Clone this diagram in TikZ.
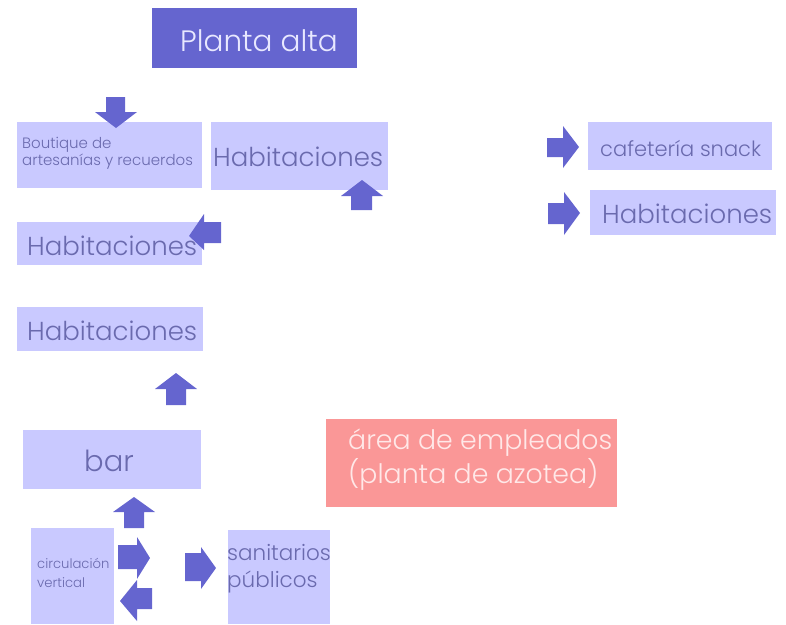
\documentclass[tikz,border=0pt]{standalone}
\usepackage{fontspec}
\setmainfont{Poppins}[UprightFont=* Light]
\definecolor{dark}{HTML}{6565CF}
\definecolor{lav}{HTML}{C9C9FF}
\definecolor{txt}{HTML}{6A6AAE}
\definecolor{salmon}{HTML}{FA9797}
\definecolor{pinktxt}{HTML}{FFE8E8}
\definecolor{titletxt}{HTML}{E8E8FF}
\tikzset{
  box/.style={fill=lav, draw=none},
  lbl/.style={text=txt, inner sep=0pt, anchor=west},
  blk/.style={fill=dark, draw=none}
}
\begin{document}
\begin{tikzpicture}[x=1pt,y=-1pt]
\useasboundingbox (0,0) rectangle (786,624);
% title
\fill[dark] (152,8) rectangle (357,68);
\node[inner sep=0pt, text=titletxt, font=\fontsize{29.5}{32}\selectfont] (title) at (259,41) {Planta alta};
% boxes
\fill[box] (17,122) rectangle (202,188);
\node[lbl, font=\fontsize{15}{17}\selectfont, align=left] (bout) at (22,153) {Boutique de\\artesanías y recuerdos};
\fill[box] (211,122) rectangle (388,190);
\node[lbl, font=\fontsize{26}{30}\selectfont] (hab1) at (213,157) {Habitaciones};
\fill[box] (17,222) rectangle (202,265);
\node[lbl, font=\fontsize{26}{30}\selectfont] (hab2) at (27,246) {Habitaciones};
\fill[box] (17,307) rectangle (203,351);
\node[lbl, font=\fontsize{26}{30}\selectfont] (hab3) at (27,331) {Habitaciones};
\fill[box] (23,430) rectangle (201,489);
\node[inner sep=0pt, text=txt, font=\fontsize{29}{32}\selectfont] (bar) at (109,461) {bar};
\fill[box] (31,528) rectangle (114,624);
\node[lbl, font=\fontsize{13.2}{19}\selectfont, align=left] (circ) at (37,573) {circulación\\vertical};
\fill[box] (228,530) rectangle (330,624);
\node[lbl, font=\fontsize{21.5}{27}\selectfont, align=left] (san) at (227,569) {sanitarios\\públicos};
\fill[salmon] (326,419) rectangle (617,507);
\node[lbl, text=pinktxt, font=\fontsize{26.8}{34}\selectfont, align=left] (emp) at (348,460) {área de empleados\\(planta de azotea)};
\fill[box] (588,122) rectangle (772,170);
\node[lbl, font=\fontsize{21}{24}\selectfont] (caf) at (600,148) {cafetería snack};
\fill[box] (590,190) rectangle (776,235);
\node[lbl, font=\fontsize{26}{30}\selectfont] (hab4) at (602,214) {Habitaciones};
% block arrows
\fill[blk] (106,97) -- (125,97) -- (125,112) -- (137,112) -- (116,128) -- (95,112) -- (106,112) -- cycle;
\fill[blk] (351,210) -- (372,210) -- (372,196) -- (383,196) -- (362,180) -- (341,196) -- (351,196) -- cycle;
\fill[blk] (221,222) -- (221,243) -- (204,243) -- (204,250) -- (189,236) -- (204,214) -- (204,222) -- cycle;
\fill[blk] (166,405) -- (186,405) -- (186,389) -- (197,389) -- (176,373) -- (155,389) -- (166,389) -- cycle;
\fill[blk] (124,528) -- (144,528) -- (144,512) -- (155,512) -- (134,497) -- (113,512) -- (124,512) -- cycle;
\fill[blk] (118,545) -- (137,545) -- (137,537) -- (150,558) -- (137,579) -- (137,569) -- (118,569) -- cycle;
\fill[blk] (152,588) -- (137,588) -- (137,580) -- (120,601) -- (137,621) -- (137,609) -- (152,609) -- cycle;
\fill[blk] (185,553) -- (201,553) -- (201,547) -- (216,568) -- (201,589) -- (201,581) -- (185,581) -- cycle;
\fill[blk] (547,138) -- (563,138) -- (563,126) -- (579,147) -- (563,168) -- (563,157) -- (547,157) -- cycle;
\fill[blk] (548,203) -- (564,203) -- (564,192) -- (580,213) -- (564,235) -- (564,224) -- (548,224) -- cycle;
\end{tikzpicture}
\end{document}
